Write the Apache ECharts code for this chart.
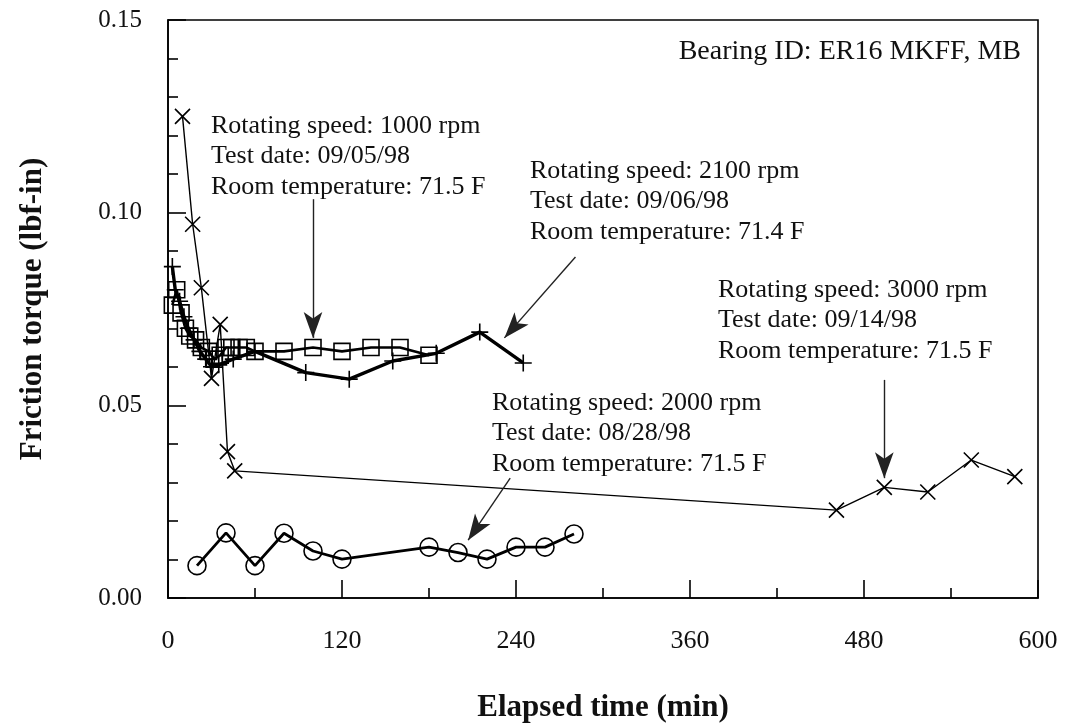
<!DOCTYPE html>
<html>
<head>
<meta charset="utf-8">
<title>Friction torque vs elapsed time</title>
<script src="https://cdn.jsdelivr.net/npm/echarts@6/dist/echarts.min.js"></script>
<style>
  html, body { margin: 0; padding: 0; background: #fff; }
  #chart { width: 1073px; height: 728px; }
</style>
</head>
<body>
<div id="chart"></div>
<script>
// Elapsed time (min) and friction torque (lbf-in) for each test run
const time1000 = [3, 6, 9, 12, 15, 19, 23, 28, 32, 36, 40, 44, 49, 54, 60, 80, 100, 120, 140, 160, 180];
const torque1000 = [0.076, 0.080, 0.074, 0.070, 0.068, 0.067, 0.065, 0.064, 0.062, 0.063, 0.065, 0.065, 0.065, 0.065, 0.064, 0.064, 0.065, 0.064, 0.065, 0.065, 0.063];

const time2100 = [3, 5, 8, 11, 14, 18, 22, 26, 30, 35, 45, 60, 95, 125, 155, 185, 215, 245];
const torque2100 = [0.086, 0.080, 0.077, 0.073, 0.070, 0.067, 0.064, 0.062, 0.060, 0.0605, 0.062, 0.064, 0.0585, 0.0568, 0.0615, 0.0635, 0.069, 0.061];

const time2000 = [20, 40, 60, 80, 100, 120, 180, 200, 220, 240, 260, 280];
const torque2000 = [0.0084, 0.0169, 0.0084, 0.0168, 0.0122, 0.0101, 0.0132, 0.0118, 0.0101, 0.0132, 0.0132, 0.0166];

const time3000 = [10, 17, 23, 30, 36, 41, 46, 461, 494, 524, 554, 584];
const torque3000 = [0.125, 0.097, 0.0805, 0.057, 0.071, 0.038, 0.033, 0.0228, 0.0287, 0.0275, 0.0358, 0.0315];

// Axis ticks
const xTicks = [0, 120, 240, 360, 480, 600];
const yTicks = [0.00, 0.05, 0.10, 0.15];

// Annotation text blocks and arrows (arrows given as [tail, head] in data units)
const bearingLabel = 'Bearing ID: ER16 MKFF, MB';
const notes = [
  ['Rotating speed: 1000 rpm', 'Test date: 09/05/98', 'Room temperature: 71.5 F'],
  ['Rotating speed: 2100 rpm', 'Test date: 09/06/98', 'Room temperature: 71.4 F'],
  ['Rotating speed: 3000 rpm', 'Test date: 09/14/98', 'Room temperature: 71.5 F'],
  ['Rotating speed: 2000 rpm', 'Test date: 08/28/98', 'Room temperature: 71.5 F']
];
const arrows = [
  [[100, 0.1035], [100, 0.0675]],
  [[281, 0.0885], [232, 0.0675]],
  [[494, 0.0566], [494, 0.0311]],
  [[236, 0.0311], [207, 0.0150]]
];

const zip = (xs, ys) => xs.map((x, i) => [x, ys[i]]);

const SERIF = '"Liberation Serif", "DejaVu Serif", serif';
const crossPath = 'path://M0,0L10,10M10,0L0,10';
const plusPath = 'path://M5,0L5,10M0,5L10,5';

const chart = echarts.init(document.getElementById('chart'), null, { renderer: 'canvas' });

const markerStyle = { color: 'transparent', borderColor: '#000', borderWidth: 1.6 };

// Text blocks: [left, top of first line]
const notePos = [[211, 113], [530, 158], [718, 277], [492, 390]];
const lineStep = 30.5;
const graphics = [{
  type: 'text', right: 52, top: 38,
  style: { text: bearingLabel, font: '28px ' + SERIF, fill: '#111' }
}];
notes.forEach((lines, k) => {
  lines.forEach((t, j) => {
    graphics.push({
      type: 'text', left: notePos[k][0], top: notePos[k][1] + j * lineStep,
      style: { text: t, font: '26px ' + SERIF, fill: '#111' }
    });
  });
});

const option = {
  animation: false,
  backgroundColor: '#fff',
  grid: {
    left: 168, right: 35, top: 20, bottom: 130,
    show: true, borderColor: '#000', borderWidth: 1.6, backgroundColor: 'transparent'
  },
  xAxis: {
    type: 'value', min: 0, max: 600, interval: 120,
    name: 'Elapsed time (min)', nameLocation: 'middle', nameGap: 94,
    nameTextStyle: { fontFamily: SERIF, fontSize: 31, fontWeight: 'bold', color: '#111' },
    axisLine: { show: true, lineStyle: { color: '#000', width: 1.6 } },
    axisTick: { show: true, inside: true, length: 18, lineStyle: { color: '#000', width: 1.6 } },
    minorTick: { show: true, splitNumber: 2, length: 10, lineStyle: { color: '#000', width: 1.6 } },
    splitLine: { show: false },
    axisLabel: {
      margin: 30, fontFamily: SERIF, fontSize: 26, color: '#111',
      formatter: v => xTicks.includes(v) ? String(v) : ''
    }
  },
  yAxis: {
    type: 'value', min: 0, max: 0.15, interval: 0.05,
    name: 'Friction torque (lbf-in)', nameLocation: 'middle', nameGap: 120,
    nameTextStyle: { fontFamily: SERIF, fontSize: 31, fontWeight: 'bold', color: '#111' },
    axisLine: { show: true, lineStyle: { color: '#000', width: 1.6 } },
    axisTick: { show: true, inside: true, length: 18, lineStyle: { color: '#000', width: 1.6 } },
    minorTick: { show: true, splitNumber: 5, length: 10, lineStyle: { color: '#000', width: 1.6 } },
    splitLine: { show: false },
    axisLabel: {
      margin: 26, fontFamily: SERIF, fontSize: 25, color: '#111',
      formatter: v => {
        const hit = yTicks.find(t => Math.abs(t - v) < 1e-9);
        return hit === undefined ? '' : hit.toFixed(2);
      }
    }
  },
  series: [
    {
      name: '3000 rpm', type: 'line', data: zip(time3000, torque3000),
      symbol: crossPath, symbolSize: 15, showAllSymbol: true,
      lineStyle: { color: '#000', width: 1.4 }, itemStyle: markerStyle, z: 3
    },
    {
      name: '1000 rpm', type: 'line', data: zip(time1000, torque1000),
      symbol: 'rect', symbolSize: 16, showAllSymbol: true,
      lineStyle: { color: '#000', width: 2.6 }, itemStyle: markerStyle, z: 4
    },
    {
      name: '2100 rpm', type: 'line', data: zip(time2100, torque2100),
      symbol: plusPath, symbolSize: 17, showAllSymbol: true,
      lineStyle: { color: '#000', width: 3.4 }, itemStyle: markerStyle, z: 5
    },
    {
      name: '2000 rpm', type: 'line', data: zip(time2000, torque2000),
      symbol: 'circle', symbolSize: 18, showAllSymbol: true,
      lineStyle: { color: '#000', width: 2.8 }, itemStyle: markerStyle, z: 5
    },
    {
      name: 'notes', type: 'line', data: [], silent: true, z: 6,
      markLine: {
        silent: true, animation: false,
        symbol: ['none', 'arrow'], symbolSize: [14, 26],
        label: { show: false },
        lineStyle: { color: '#222', width: 1.4, type: 'solid' },
        emphasis: { disabled: true },
        data: arrows.map(a => [{ coord: a[0] }, { coord: a[1] }])
      }
    }
  ],
  graphic: graphics
};

chart.setOption(option);
</script>
</body>
</html>
